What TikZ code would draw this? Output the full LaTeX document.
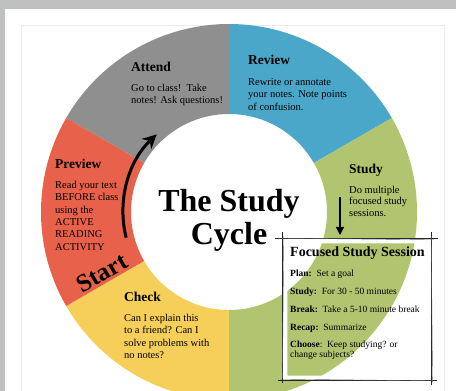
\documentclass[tikz,border=0pt]{standalone}
\usepackage{fontspec}
\setmainfont{Liberation Serif}
\usetikzlibrary{arrows.meta}
\definecolor{pagegray}{HTML}{BFC1C0}
\definecolor{attendgray}{HTML}{8F8F8F}
\definecolor{reviewblue}{HTML}{4BA7C9}
\definecolor{studygreen}{HTML}{B1C46F}
\definecolor{checkyellow}{HTML}{F6CF5B}
\definecolor{previewred}{HTML}{E8614B}

\begin{document}
\begin{tikzpicture}[x=1pt,y=1pt,
  heading/.style={anchor=base west, inner sep=0pt, font=\fontsize{13.5}{16}\selectfont\bfseries},
  bodytext/.style={anchor=base west, align=left, inner sep=0pt, font=\fontsize{10.5}{12.3}\selectfont},
  boxline/.style={anchor=base west, align=left, inner sep=0pt, font=\fontsize{9.5}{10}\selectfont},
  sketch/.style={line width=1pt, black!85}]
  \useasboundingbox (-229,-179) rectangle (227,212);
  \clip (-229,-179) rectangle (227,212);
  % page
  \fill[pagegray] (-229,-179) rectangle (227,212);
  \fill[white] (-224,-179) rectangle (227,203);
  \draw[gray!15] (-208,-180) -- (-208,187) -- (215,187) -- (215,-180);
  % ring
  \foreach \a/\b/\c in {90/150/attendgray, 30/90/reviewblue, -90/30/studygreen,
                        210/270/checkyellow, 150/210/previewred}
    \fill[\c] (\a:188) arc (\a:\b:188) -- (\b:98) arc (\b:\a:98) -- cycle;
  % segment texts (body nodes sit on the baseline of their last line)
  \node[heading] (attend) at (-98,140) {Attend};
  \node[bodytext] (attendtext) at (-98,108.2) {Go to class!\ \ Take\\notes! Ask questions!};
  \node[heading] (review) at (19,147) {Review};
  \node[bodytext] (reviewtext) at (19,101.9) {Rewrite or annotate\\your notes. Note points\\of confusion.};
  \node[heading] (preview) at (-174,43) {Preview};
  \node[bodytext] (previewtext) at (-174,-38) {Read your text\\BEFORE class\\using the\\ACTIVE\\READING\\ACTIVITY};
  \node[heading] (study) at (120,38) {Study};
  \node[bodytext, font=\fontsize{10.5}{11.5}\selectfont] (studytext) at (120,-4.5) {Do multiple\\focused study\\sessions.};
  \node[heading] (check) at (-105,-89) {Check};
  \node[bodytext] (checktext) at (-105,-146.4) {Can I explain this\\to a friend? Can I\\solve problems with\\no notes?};
  % title and start
  \node[align=center, font=\fontsize{32}{33}\selectfont\bfseries] (title) at (0,-8) {The Study\\Cycle};
  \node[font=\fontsize{25}{25}\selectfont\bfseries, rotate=30] (start) at (-127,-61) {Start};
  % arrows
  \coordinate (arcstart) at (194:106);
  \draw[line width=3pt, -{Stealth[length=14pt,width=14pt]}] (arcstart) arc (194:133:106);
  \coordinate (downtop) at (111,15);
  \coordinate (downbot) at (111,-23);
  \draw[line width=1.3pt, -{Triangle[length=8pt,width=8pt]}] (downtop) -- (downbot);
  % focused study session box
  \fill[white, even odd rule] (54,-27) rectangle (203,-168) (58.5,-31.5) rectangle (198.5,-163.5);
  \draw[sketch] (46,-27) -- (209,-27);
  \draw[sketch] (54,-20) -- (54,-171);
  \draw[sketch] (203,-20) -- (203,-173);
  \draw[sketch] (49,-168) -- (208,-168);
  \draw[black!60, line width=0.4pt] (50,-26.2) -- (205,-27.8) (54.8,-24) -- (53.4,-166)
    (202.2,-24) -- (203.6,-170) (52,-167.2) -- (206,-168.8);
  \node[boxline, font=\fontsize{14}{15}\selectfont\bfseries] (focushead) at (61,-45) {Focused Study Session};
  \node[boxline] (plan) at (61,-64.5) {\textbf{Plan:}\ \ Set a goal};
  \node[boxline] (studyline) at (61,-82.5) {\textbf{Study:}\ \ For 30 - 50 minutes};
  \node[boxline] (break) at (61,-100) {\textbf{Break:}\ \ Take a 5-10 minute break};
  \node[boxline] (recap) at (61,-118) {\textbf{Recap:}\ \ Summarize};
  \node[boxline] (choose) at (61,-145.5) {\textbf{Choose}:\ \ Keep studying? or\\change subjects?};
\end{tikzpicture}
\end{document}
